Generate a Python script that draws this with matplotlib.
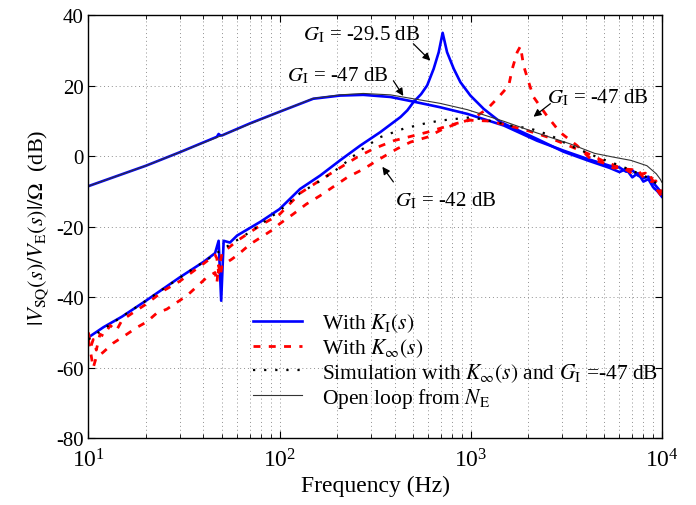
import numpy as np
from matplotlib import pyplot as plt

plt.rcParams['font.family'] = ['Liberation Serif', 'DejaVu Serif']
plt.rcParams['mathtext.fontset'] = 'stix'
plt.rcParams['axes.unicode_minus'] = False

# K_I(s), G_I = -47 dB (broad response)
kiBroadFreq = [10, 20, 30, 47, 48, 49, 50, 70, 100, 150, 207, 274, 380, 500, 690, 960, 1490, 2220,
               3050, 4090, 5320, 6000, 6500, 7000, 7500, 8000, 8500, 9000, 9500, 10000]
kiBroadDb = [-8.5, -2.7, 1.1, 5.5, 6.3, 5.9, 5.9, 9.3, 12.6, 16.3, 17.2, 17.4, 16.8, 15.5, 13.9, 12.0, 8.7, 4.4,
             1.6, -0.8, -2.7, -3.2, -4.4, -4.0, -5.5, -6.2, -5.8, -7.5, -9.0, -10.5]

# K_I(s), G_I = -29.5 dB (resonant response)
kiPeakFreq = [10, 12, 15, 20, 30, 40, 46, 48, 49.5, 51, 55, 60, 80, 100, 128, 163, 207, 264, 336, 396, 429,
              466, 501, 550, 592, 640, 680, 713, 752, 815, 883, 996, 1170, 1430, 1830, 2220, 3050, 4090,
              5320, 6000, 6500, 7000, 7500, 8000, 8500, 9000, 9500, 10000]
kiPeakDb = [-51.4, -48.5, -45.5, -41.0, -34.4, -30.0, -27.5, -24.0, -41.0, -24.0, -24.5, -22.5, -18.5, -15.0,
            -9.3, -5.5, -1.2, 3.0, 6.8, 9.7, 11.1, 13.0, 15.3, 17.6, 20.1, 24.8, 29.5, 35.0, 29.5, 24.8,
            21.0, 17.2, 13.4, 9.7, 7.0, 4.9, 1.3, -1.2, -3.3, -4.5, -3.6, -6.0, -4.8, -7.2, -6.5, -8.8,
            -10.0, -11.5]

# K_inf(s), G_I = -47 dB
kInfFreq = [10, 10.3, 10.6, 11, 11.5, 12, 13, 14, 15, 17, 20, 25, 30, 40, 46, 47, 48, 49, 50, 60, 80, 100,
            128, 184, 254, 310, 396, 592, 721, 843, 990, 1220, 1500, 2000, 2500, 3000, 3600, 4200, 5000,
            5600, 6200, 7000, 7600, 8200, 8800, 9300, 10000]
kInfDb = [-50.0, -54.0, -52.0, -55.0, -50.5, -51.0, -48.0, -49.5, -46.5, -44.5, -42.0, -38.0, -35.5, -30.5,
          -28.0, -29.0, -33.0, -30.0, -27.5, -24.0, -19.5, -16.5, -10.5, -5.0, -0.3, 2.1, 4.4, 6.8, 8.2, 9.3,
          10.2, 10.0, 9.0, 7.2, 5.5, 3.8, 2.0, 0.5, -1.5, -2.5, -3.6, -3.8, -5.2, -4.8, -7.2, -7.0, -10.5]

# K_inf(s), G_I = -42 dB
kInfLowFreq = [10, 10.3, 10.6, 11, 11.9, 13.5, 15.9, 17.9, 20.2, 22.8, 25.7, 32.7, 36.9, 41.6, 46, 47, 48,
               49, 50, 56.3, 61, 70, 80, 93, 100, 118, 138, 163, 226, 276, 324, 412, 484, 592, 721, 843,
               1020, 1220, 1400, 1580, 1650, 1750, 1820, 1890, 2010, 2130, 2500, 2930, 3600, 4240,
               5000, 5600, 6200, 7000, 7600, 8200, 8800, 9300, 10000]
kInfLowDb = [-52.0, -56.0, -60.0, -57.0, -55.7, -53.0, -50.5, -48.6, -47.0, -44.5, -43.4, -39.6, -37.0,
             -34.4, -33.0, -36.0, -31.0, -34.0, -31.0, -29.2, -27.8, -25.0, -23.0, -20.7, -19.2, -16.4,
             -13.6, -11.2, -6.0, -3.6, -1.2, 2.1, 4.0, 5.4, 7.8, 9.2, 10.6, 13.4, 16.8, 20.0, 24.8, 29.5,
             31.2, 25.7, 21.0, 16.8, 11.5, 6.8, 3.0, -0.8, -2.0, -3.4, -3.0, -5.0, -4.4, -6.8, -6.0,
             -9.0, -11.5]

# simulation with K_inf(s), G_I = -47 dB
simFreq = [10, 12, 15, 20, 30, 40, 50, 70, 100, 128, 163, 207, 264, 336, 445, 567, 690, 843, 990, 1200,
           1620, 2060, 2620, 3310, 4600, 6050, 8040, 9000, 9900]
simDb = [-52.0, -49.0, -45.5, -41.0, -34.5, -30.0, -26.5, -21.5, -15.5, -10.5, -7.0, -3.1, 1.6, 5.4, 7.8,
         9.2, 10.1, 10.6, 11.0, 10.3, 8.7, 7.8, 5.9, 3.0, -0.3, -2.7, -5.5, -7.0, -8.8]

# open loop from N_E
openFreq = [10, 20, 30, 50, 100, 150, 207, 274, 380, 500, 690, 960, 1490, 2220, 3310, 4450, 5500, 6900,
            8350, 9350, 9800, 10000]
openDb = [-8.5, -2.7, 1.1, 5.9, 12.6, 16.4, 17.4, 17.8, 17.4, 16.3, 15.0, 13.2, 9.9, 6.6, 3.5, 0.8, -0.2,
          -1.2, -2.7, -5.0, -6.5, -7.4]

fig = plt.figure(figsize=(6.96, 5.06), dpi=100)
ax = fig.add_axes([0.127, 0.132, 0.824, 0.836])

blue = '#0000ff'
red = '#ff0000'
ax.plot(kiBroadFreq, kiBroadDb, color=blue, lw=1.9, label=r'With $K_{\rm I}(s)$')
ax.plot(kiPeakFreq, kiPeakDb, color=blue, lw=1.9)
ax.plot(kInfFreq, kInfDb, color=red, lw=2.0, ls=(0, (2.5, 3)), label=r'With $K_{\infty}(s)$')
ax.plot(kInfLowFreq, kInfLowDb, color=red, lw=2.0, ls=(0, (2.5, 3)))
ax.plot(simFreq, simDb, color='k', lw=1.6, ls=(0, (1, 4)),
        label=r'Simulation with $K_{\infty}(s)$ and $G_{\rm I}$ =-47 dB')
ax.plot(openFreq, openDb, color='#333333', lw=0.8, label=r'Open loop from $N_{\rm E}$')

ax.set_xscale('log')
ax.set_xlim(10, 10000)
ax.set_ylim(-80, 40)
ax.set_yticks(np.arange(-80, 41, 20))
ax.grid(True, which='both', axis='x', color='#909090', ls=(0, (1, 3)), lw=0.7)
ax.grid(True, which='major', axis='y', color='#909090', ls=(0, (1, 3)), lw=0.7)
ax.tick_params(which='both', direction='in', top=True, right=True)
ax.tick_params(axis='y', labelsize=15)
ax.tick_params(axis='x', labelsize=17, pad=7)
ax.tick_params(which='major', length=5)
ax.tick_params(which='minor', length=3)
for spine in ax.spines.values():
    spine.set_linewidth(1.0)

ax.set_xlabel('Frequency (Hz)', fontsize=17, labelpad=3)
ax.set_ylabel(r'$|V_{\rm SQ}(s)/V_{\rm E}(s)|/\Omega$  (dB)', fontsize=16, labelpad=4)

arrow = dict(arrowstyle='-|>', color='k', lw=0.9, mutation_scale=11, shrinkA=0, shrinkB=0)
ax.text(133, 33.3, r'$G_{\rm I}$ = -29.5 dB', fontsize=15)
ax.annotate('', xy=(615, 27.1), xytext=(501, 31.9), arrowprops=arrow)
ax.text(110, 21.6, r'$G_{\rm I}$ = -47 dB', fontsize=15)
ax.annotate('', xy=(444, 17.1), xytext=(394, 21.4), arrowprops=arrow)
ax.text(2520, 15.4, r'$G_{\rm I}$ = -47 dB', fontsize=15)
ax.annotate('', xy=(2130, 11.2), xytext=(2610, 14.9), arrowprops=arrow)
ax.text(404, -13.9, r'$G_{\rm I}$ = -42 dB', fontsize=15)
ax.annotate('', xy=(345, -3.0), xytext=(394, -7.3), arrowprops=arrow)

ax.legend(loc='upper left', bbox_to_anchor=(0.268, 0.325), frameon=False, fontsize=15.5,
          handlelength=2.3, handletextpad=0.9, labelspacing=0.1, borderpad=0)

plt.savefig('out.png', dpi=100)
